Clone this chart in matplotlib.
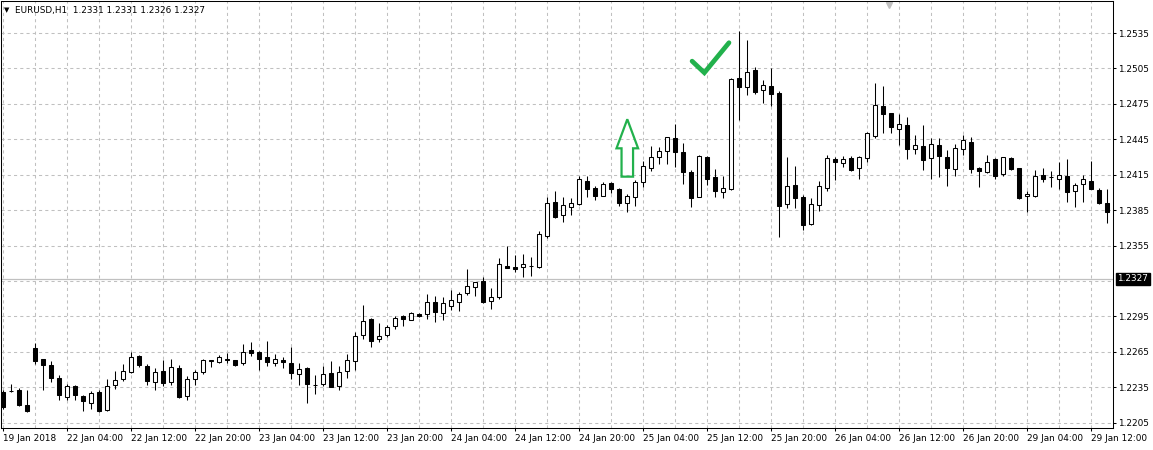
import numpy as np
import matplotlib
matplotlib.use("Agg")
import matplotlib.pyplot as plt
from matplotlib.patches import Polygon

# EURUSD H1 candles (oldest first)
opens = [
    1.22314, 1.22317, 1.22331, 1.22199, 1.22683, 1.22586, 1.22537, 1.22427, 1.22267, 1.22358,
    1.22275, 1.22221, 1.22312, 1.22157, 1.22366, 1.22421, 1.22477, 1.22619, 1.22531, 1.22399,
    1.22487, 1.22399, 1.22518, 1.22281, 1.22421, 1.22482, 1.22570, 1.22564, 1.22592, 1.22578,
    1.22559, 1.22669, 1.22652, 1.22611, 1.22559, 1.22578, 1.22559, 1.22460, 1.22510, 1.22372,
    1.22378, 1.22468, 1.22364, 1.22487, 1.22574, 1.22793, 1.22926, 1.22757, 1.22793, 1.22869,
    1.22957, 1.22920, 1.22969, 1.22969, 1.23070, 1.22977, 1.23041, 1.23075, 1.23146, 1.23198,
    1.23251, 1.23083, 1.23117, 1.23378, 1.23367, 1.23367, 1.23374, 1.23367, 1.23635, 1.23917,
    1.23808, 1.23875, 1.23900, 1.24098, 1.24035, 1.23971, 1.24077, 1.24027, 1.23909, 1.23959,
    1.24091, 1.24206, 1.24304, 1.24355, 1.24459, 1.24342, 1.24172, 1.23964, 1.24299, 1.24132,
    1.24007, 1.24027, 1.24968, 1.24892, 1.25037, 1.24870, 1.24903, 1.24846, 1.23900, 1.24063,
    1.23964, 1.23733, 1.23895, 1.24035, 1.24285, 1.24249, 1.24291, 1.24206, 1.24291, 1.24482,
    1.24734, 1.24672, 1.24536, 1.24572, 1.24367, 1.24396, 1.24291, 1.24404, 1.24299, 1.24197,
    1.24367, 1.24426, 1.24206, 1.24177, 1.24283, 1.24156, 1.24291, 1.24206, 1.23971, 1.23974,
    1.24147, 1.24128, 1.24118, 1.24139, 1.24015, 1.24069, 1.24098, 1.24021, 1.23909,
]
highs = [
    1.22331, 1.22378, 1.22343, 1.22331, 1.22724, 1.22588, 1.22570, 1.22454, 1.22380, 1.22372,
    1.22289, 1.22322, 1.22331, 1.22421, 1.22487, 1.22551, 1.22652, 1.22620, 1.22551, 1.22510,
    1.22578, 1.22592, 1.22537, 1.22446, 1.22501, 1.22592, 1.22584, 1.22620, 1.22638, 1.22584,
    1.22721, 1.22737, 1.22661, 1.22743, 1.22633, 1.22605, 1.22694, 1.22559, 1.22523, 1.22454,
    1.22529, 1.22570, 1.22529, 1.22633, 1.22817, 1.23048, 1.22935, 1.22893, 1.22878, 1.22954,
    1.22962, 1.22986, 1.22982, 1.23141, 1.23123, 1.23112, 1.23175, 1.23160, 1.23349, 1.23241,
    1.23282, 1.23189, 1.23442, 1.23547, 1.23470, 1.23479, 1.23451, 1.23673, 1.23964, 1.24012,
    1.23964, 1.23951, 1.24142, 1.24142, 1.24055, 1.24086, 1.24086, 1.24035, 1.23987, 1.24105,
    1.24267, 1.24396, 1.24381, 1.24472, 1.24580, 1.24418, 1.24191, 1.24318, 1.24310, 1.24200,
    1.24142, 1.24968, 1.25368, 1.25292, 1.25064, 1.24953, 1.25053, 1.24860, 1.24299, 1.24225,
    1.23978, 1.23956, 1.24098, 1.24318, 1.24299, 1.24310, 1.24310, 1.24310, 1.24516, 1.24930,
    1.24904, 1.24677, 1.24667, 1.24643, 1.24487, 1.24572, 1.24459, 1.24459, 1.24361, 1.24411,
    1.24487, 1.24467, 1.24214, 1.24318, 1.24291, 1.24301, 1.24304, 1.24211, 1.24012, 1.24191,
    1.24211, 1.24182, 1.24257, 1.24285, 1.24077, 1.24147, 1.24270, 1.24035, 1.24029,
]
lows = [
    1.22166, 1.22311, 1.22194, 1.22145, 1.22545, 1.22325, 1.22399, 1.22242, 1.22242, 1.22242,
    1.22152, 1.22166, 1.22138, 1.22146, 1.22339, 1.22407, 1.22468, 1.22523, 1.22372, 1.22325,
    1.22364, 1.22366, 1.22262, 1.22240, 1.22372, 1.22463, 1.22523, 1.22556, 1.22559, 1.22531,
    1.22543, 1.22614, 1.22496, 1.22531, 1.22531, 1.22510, 1.22421, 1.22366, 1.22221, 1.22298,
    1.22358, 1.22353, 1.22325, 1.22432, 1.22497, 1.22757, 1.22695, 1.22735, 1.22776, 1.22844,
    1.22871, 1.22920, 1.22948, 1.22926, 1.22901, 1.22920, 1.23005, 1.22999, 1.23132, 1.23127,
    1.23062, 1.23013, 1.23096, 1.23358, 1.23330, 1.23288, 1.23294, 1.23364, 1.23618, 1.23786,
    1.23752, 1.23808, 1.23894, 1.23964, 1.23937, 1.23971, 1.23998, 1.23889, 1.23839, 1.23889,
    1.24049, 1.24185, 1.24241, 1.24241, 1.24219, 1.24071, 1.23873, 1.23959, 1.24063, 1.23964,
    1.23956, 1.24021, 1.24610, 1.24827, 1.24833, 1.24756, 1.24734, 1.23626, 1.23868, 1.23868,
    1.23685, 1.23727, 1.23847, 1.24015, 1.24105, 1.24219, 1.24182, 1.24118, 1.24262, 1.24459,
    1.24507, 1.24507, 1.24404, 1.24285, 1.24328, 1.24191, 1.24113, 1.24133, 1.24055, 1.24139,
    1.24318, 1.24168, 1.24049, 1.24168, 1.24118, 1.24142, 1.24191, 1.23945, 1.23839, 1.23964,
    1.24091, 1.24049, 1.24029, 1.23922, 1.23873, 1.23922, 1.24027, 1.23900, 1.23741,
]
closes = [
    1.22182, 1.22316, 1.22201, 1.22152, 1.22572, 1.22543, 1.22427, 1.22284, 1.22364, 1.22284,
    1.22234, 1.22303, 1.22152, 1.22364, 1.22413, 1.22487, 1.22605, 1.22537, 1.22407, 1.22477,
    1.22391, 1.22523, 1.22267, 1.22421, 1.22482, 1.22578, 1.22578, 1.22611, 1.22578, 1.22537,
    1.22652, 1.22638, 1.22586, 1.22564, 1.22586, 1.22567, 1.22468, 1.22504, 1.22378, 1.22373,
    1.22463, 1.22353, 1.22477, 1.22578, 1.22785, 1.22914, 1.22745, 1.22785, 1.22860, 1.22935,
    1.22926, 1.22977, 1.22957, 1.23075, 1.22986, 1.23062, 1.23090, 1.23138, 1.23209, 1.23240,
    1.23075, 1.23112, 1.23392, 1.23359, 1.23353, 1.23392, 1.23375, 1.23649, 1.23909, 1.23794,
    1.23894, 1.23909, 1.24112, 1.24027, 1.23974, 1.24071, 1.24032, 1.23914, 1.23971, 1.24086,
    1.24225, 1.24299, 1.24352, 1.24467, 1.24347, 1.24177, 1.23956, 1.24310, 1.24118, 1.24015,
    1.24035, 1.24960, 1.24897, 1.25023, 1.24855, 1.24911, 1.24833, 1.23887, 1.24055, 1.23951,
    1.23721, 1.23903, 1.24055, 1.24291, 1.24257, 1.24283, 1.24191, 1.24299, 1.24501, 1.24744,
    1.24664, 1.24551, 1.24580, 1.24370, 1.24398, 1.24277, 1.24410, 1.24310, 1.24206, 1.24375,
    1.24445, 1.24197, 1.24185, 1.24257, 1.24142, 1.24299, 1.24197, 1.23956, 1.23987, 1.24139,
    1.24113, 1.24129, 1.24147, 1.24007, 1.24063, 1.24113, 1.24027, 1.23914, 1.23839,
]

time_labels = ['19 Jan 2018', '22 Jan 04:00', '22 Jan 12:00', '22 Jan 20:00',
               '23 Jan 04:00', '23 Jan 12:00', '23 Jan 20:00', '24 Jan 04:00',
               '24 Jan 12:00', '24 Jan 20:00', '25 Jan 04:00', '25 Jan 12:00',
               '25 Jan 20:00', '26 Jan 04:00', '26 Jan 12:00', '26 Jan 20:00',
               '29 Jan 04:00', '29 Jan 12:00']
price_levels = [1.2205, 1.2235, 1.2265, 1.2295, 1.2325, 1.2355, 1.2385,
                1.2415, 1.2445, 1.2475, 1.2505, 1.2535]
last_price = 1.2327
header = 'EURUSD,H1  1.2331 1.2331 1.2326 1.2327'

# hand drawn marks on the chart (bar index, price)
arrow_x = [78.0, 79.35, 78.72, 78.72, 77.28, 77.28, 76.65]
arrow_y = [1.24620, 1.24374, 1.24374, 1.24134, 1.24134, 1.24374, 1.24374]
check_x = [86.1, 87.63, 90.71]
check_y = [1.25112, 1.25014, 1.25268]

GREEN = '#22B14C'
GRID = '#C0C0C0'
FS = 6.4

o = np.array(opens)
h = np.array(highs)
l = np.array(lows)
c = np.array(closes)
idx = np.arange(len(o))
up = c > o

fig = plt.figure(figsize=(11.53, 4.5), dpi=100)
ax = fig.add_axes([1.3 / 1153, 22 / 450, 1112 / 1153, 427 / 450])
ax.set_xlim(-0.25, 138.75)
ax.set_ylim(1.220059, 1.256213)

# dashed grid
for p in price_levels:
    ax.axhline(p, color=GRID, lw=0.75, ls=(0, (3, 3)), zorder=0)
for i in range(0, len(o), 4):
    ax.axvline(i, color=GRID, lw=0.75, ls=(0, (3, 3)), zorder=0)
ax.axhline(last_price, color=GRID, lw=0.9, zorder=1)

# candles
ax.vlines(idx, l, h, color='black', lw=0.75, zorder=2)
ax.bar(idx, np.abs(c - o), bottom=np.minimum(o, c), width=0.5,
       color=np.where(up, 'white', 'black'), edgecolor='black',
       linewidth=0.75, zorder=3)

# annotations
ax.add_patch(Polygon(list(zip(arrow_x, arrow_y)), closed=True, fill=False,
                     edgecolor=GREEN, lw=1.6, joinstyle='miter', zorder=4))
ax.plot(check_x, check_y, color=GREEN, lw=3.4, solid_capstyle='round',
        solid_joinstyle='miter', zorder=4)

# axes styling
for s in ax.spines.values():
    s.set_linewidth(0.75)
    s.set_color('black')
ax.yaxis.tick_right()
ticks = [p for p in price_levels if p != 1.2325]
ax.set_yticks(ticks)
ax.set_yticklabels(['%.4f' % p for p in ticks], fontsize=FS)
ax.set_xticks(range(0, len(o), 8))
ax.set_xticklabels(time_labels, fontsize=FS)
for lab in ax.get_xticklabels():
    lab.set_horizontalalignment('left')
ax.tick_params(axis='y', direction='out', length=2.5, width=0.75, pad=1.2)
ax.tick_params(axis='x', direction='out', length=2.5, width=0.75, pad=1.5)

ax.annotate('%.4f' % last_price, xy=(1, last_price),
            xycoords=('axes fraction', 'data'), xytext=(3, 0),
            textcoords='offset points', ha='left', va='center',
            fontsize=FS, color='white', annotation_clip=False,
            bbox=dict(boxstyle='square,pad=0.15', fc='black', ec='black'))

# header and chart-shift marker
fig.text(4 / 1153, 1 - 10 / 450, '\u25BC', fontsize=5, va='center', ha='left')
fig.text(15 / 1153, 1 - 10 / 450, header, fontsize=FS, va='center', ha='left')
ax.plot([0.798], [0.99], marker='v', ms=5, color=GRID,
        transform=ax.transAxes, clip_on=False)

fig.savefig('out.png', dpi=100)
